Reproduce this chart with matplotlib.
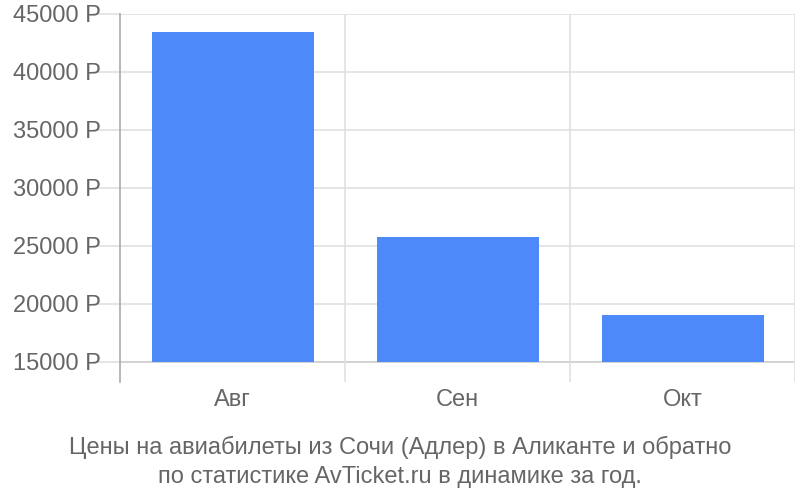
import matplotlib.pyplot as plt

months = ['Авг', 'Сен', 'Окт']
prices = [43420, 25780, 19020]
yticks = [15000, 20000, 25000, 30000, 35000, 40000, 45000]
ytick_labels = ['%d Р' % v for v in yticks]
title = 'Цены на авиабилеты из Сочи (Адлер) в Аликанте и обратно\nпо статистике AvTicket.ru в динамике за год.'

plt.rcParams['font.family'] = ['Liberation Sans', 'DejaVu Sans']

fig = plt.figure(figsize=(8, 5), dpi=100)
ax = fig.add_axes([0.15, 0.2366, 0.84375, 0.7354])

base = 15000
ax.bar(range(len(months)), [p - base for p in prices], bottom=base,
       width=0.72, color='#4d89f9', zorder=3)

ax.set_xlim(-0.5, len(months) - 0.5)
ax.set_ylim(13276, 45000)

# grid
for v in yticks:
    ax.axhline(v, color='#cccccc' if v == base else '#e0e0e0', lw=1.2, zorder=1)
for x in [0.5, 1.5, 2.5]:
    ax.axvline(x, color='#e0e0e0', lw=1.2, zorder=1)

ax.set_yticks(yticks)
ax.set_yticklabels(ytick_labels)
ax.set_xticks(range(len(months)))
ax.set_xticklabels(months)
ax.tick_params(axis='y', length=20, color='#e0e0e0', width=1.2, labelsize=17,
               labelcolor='#666666', pad=-6)
ax.tick_params(axis='x', length=0, labelsize=17, labelcolor='#666666', pad=5)

for s in ['top', 'right', 'bottom']:
    ax.spines[s].set_visible(False)
ax.spines['left'].set_color('#aaaaaa')
ax.spines['left'].set_linewidth(1.2)

fig.text(0.5, 0.025, title, ha='center', va='bottom', fontsize=17,
         color='#666666', linespacing=1.38)

fig.savefig('out.png', dpi=100)
